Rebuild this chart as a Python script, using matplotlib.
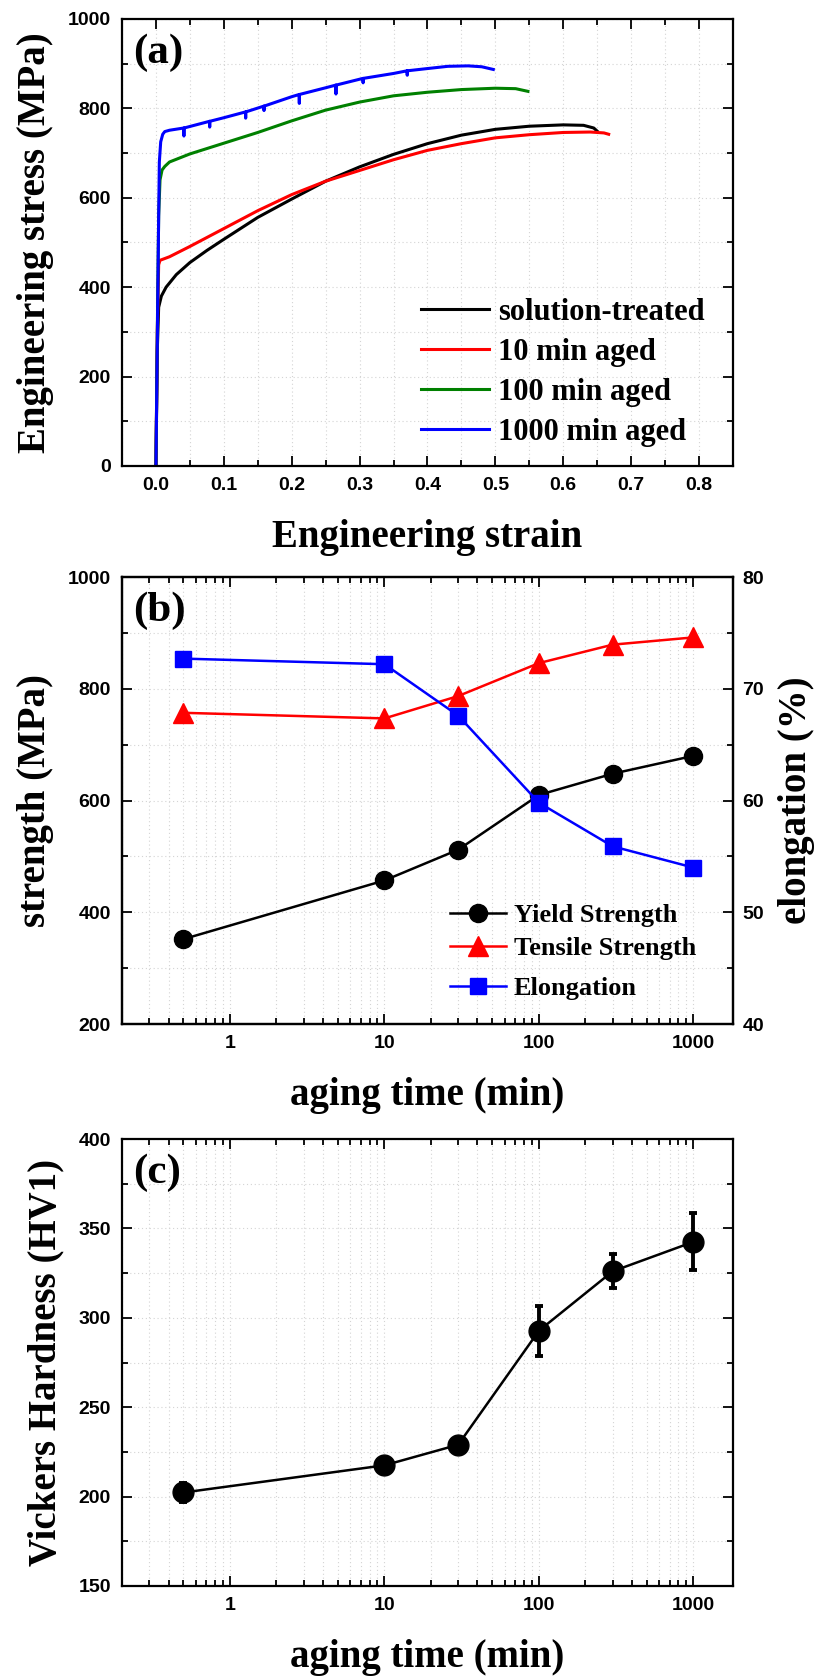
import matplotlib
matplotlib.use("Agg")
import matplotlib.pyplot as plt
from matplotlib.ticker import MultipleLocator, LogLocator, NullFormatter, FixedLocator, FixedFormatter

plt.rcParams['font.family'] = ['Liberation Sans', 'DejaVu Sans']
plt.rcParams['font.weight'] = 'bold'

# ---- (a) engineering stress-strain curves ----
st_strain = [0, 0.002, 0.004, 0.008, 0.015, 0.03, 0.05, 0.075, 0.1, 0.15, 0.2, 0.25,
             0.3, 0.35, 0.4, 0.45, 0.5, 0.55, 0.6, 0.63, 0.645, 0.65]
st_stress = [0, 260, 355, 380, 400, 428, 455, 482, 507, 556, 597, 637,
             669, 697, 721, 740, 753, 760, 763, 762, 756, 749]

a10_strain = [0, 0.002, 0.004, 0.006, 0.02, 0.05, 0.1, 0.15, 0.2, 0.25, 0.3, 0.35,
              0.4, 0.45, 0.5, 0.55, 0.6, 0.64, 0.66, 0.667]
a10_stress = [0, 300, 450, 460, 468, 491, 531, 571, 607, 637, 661, 685,
              706, 721, 734, 741, 746, 747, 745, 742]

a100_strain = [0, 0.002, 0.004, 0.006, 0.009, 0.013, 0.02, 0.05, 0.1, 0.15, 0.2, 0.25,
               0.3, 0.35, 0.4, 0.45, 0.5, 0.53, 0.548]
a100_stress = [0, 300, 560, 640, 662, 670, 680, 698, 722, 746, 772, 796,
               814, 828, 836, 842, 845, 844, 838]

a1000_strain = [0, 0.002, 0.004, 0.005, 0.007, 0.01, 0.013, 0.02, 0.041, 0.0412, 0.0414,
                0.079, 0.0792, 0.0794, 0.1, 0.132, 0.1322, 0.1324, 0.159, 0.1592, 0.1594,
                0.2, 0.211, 0.2112, 0.2114, 0.25, 0.265, 0.2652, 0.2654, 0.305, 0.3052,
                0.3054, 0.35, 0.37, 0.3702, 0.3704, 0.4, 0.43, 0.46, 0.48, 0.497]
a1000_stress = [0, 280, 560, 680, 725, 742, 748, 751, 756, 738, 756,
                771, 758, 771, 779, 792, 778, 792, 805, 795, 805,
                826, 831, 811, 831, 846, 852, 832, 852, 867, 857,
                867, 878, 884, 874, 884, 889, 894, 895, 893, 887]

# ---- (b) strength / elongation vs aging time ----
aging_time = [0.5, 10, 30, 100, 300, 1000]
yield_strength = [352, 457, 512, 610, 648, 680]
tensile_strength = [757, 747, 787, 846, 879, 892]
elongation = [72.7, 72.2, 67.6, 59.8, 55.9, 54.0]

# ---- (c) Vickers hardness ----
hardness = [202.3, 217.5, 229.0, 292.8, 326.0, 342.5]
hardness_err = [5.5, 2.0, 4.0, 14.0, 9.5, 16.0]

serif = {'family': 'Liberation Serif', 'weight': 'bold'}
label_fs = 28
tick_fs = 14
grid_kw = dict(color='#d4d4d4', linestyle=(0, (1, 2.5)), linewidth=0.8)


def style_axis(ax, right=True):
    ax.tick_params(which='both', direction='in', top=True, right=right,
                   width=1.3, labelsize=tick_fs, pad=8)
    ax.tick_params(which='major', length=7)
    ax.tick_params(which='minor', length=4)
    for s in ax.spines.values():
        s.set_linewidth(1.6)
    ax.grid(True, which='both', **grid_kw)
    ax.set_axisbelow(True)


fig = plt.figure(figsize=(8.3, 16.76), dpi=100)
left, width, height = 0.147, 0.736, 0.2667

# ---------------- (a) ----------------
ax1 = fig.add_axes([left, 0.722, width, height])
ax1.plot(st_strain, st_stress, color='black', lw=2.2, label='solution-treated')
ax1.plot(a10_strain, a10_stress, color='#ff0000', lw=2.2, label='10 min aged')
ax1.plot(a100_strain, a100_stress, color='#008000', lw=2.2, label='100 min aged')
ax1.plot(a1000_strain, a1000_stress, color='#0000ff', lw=2.2, label='1000 min aged')
ax1.set_xlim(-0.05, 0.85)
ax1.set_ylim(0, 1000)
ax1.xaxis.set_major_locator(MultipleLocator(0.1))
ax1.xaxis.set_minor_locator(MultipleLocator(0.05))
ax1.yaxis.set_major_locator(MultipleLocator(200))
ax1.yaxis.set_minor_locator(MultipleLocator(100))
ax1.xaxis.set_major_formatter(plt.FuncFormatter(lambda v, p: f"{v:.1f}"))
style_axis(ax1)
ax1.set_xlabel('Engineering strain', fontdict=serif, fontsize=label_fs, labelpad=18)
ax1.set_ylabel('Engineering stress (MPa)', fontdict=serif, fontsize=label_fs, labelpad=10)
ax1.text(0.018, 0.968, '(a)', transform=ax1.transAxes, va='top', ha='left',
         fontsize=31, **serif)
ax1.legend(loc='lower left', bbox_to_anchor=(0.47, 0.016), frameon=False,
           prop={'family': 'Liberation Serif', 'weight': 'bold', 'size': 22},
           handlelength=2.2, handletextpad=0.3, labelspacing=0.36, borderaxespad=0)

# ---------------- (b) ----------------
ax2 = fig.add_axes([left, 0.389, width, height])
l1, = ax2.plot(aging_time, yield_strength, '-o', color='black', ms=13, lw=1.8,
               label='Yield Strength')
l2, = ax2.plot(aging_time, tensile_strength, '-^', color='#ff0000', ms=15, lw=1.8,
               label='Tensile Strength')
ax2.set_xscale('log')
ax2.set_xlim(0.2, 1800)
ax2.set_ylim(200, 1000)
ax2.yaxis.set_major_locator(MultipleLocator(200))
ax2.yaxis.set_minor_locator(MultipleLocator(100))
ax2.xaxis.set_major_locator(FixedLocator([1, 10, 100, 1000]))
ax2.xaxis.set_major_formatter(FixedFormatter(['1', '10', '100', '1000']))
ax2.xaxis.set_minor_locator(LogLocator(base=10, subs=range(2, 10)))
ax2.xaxis.set_minor_formatter(NullFormatter())
style_axis(ax2, right=False)
ax2.set_xlabel('aging time (min)', fontdict=serif, fontsize=label_fs, labelpad=18)
ax2.set_ylabel('strength (MPa)', fontdict=serif, fontsize=label_fs, labelpad=10)
ax2.text(0.018, 0.968, '(b)', transform=ax2.transAxes, va='top', ha='left',
         fontsize=31, **serif)

ax2r = ax2.twinx()
l3, = ax2r.plot(aging_time, elongation, '-s', color='#0000ff', ms=12, lw=1.8,
                label='Elongation')
ax2r.set_ylim(40, 80)
ax2r.yaxis.set_major_locator(MultipleLocator(10))
ax2r.yaxis.set_minor_locator(MultipleLocator(5))
ax2r.tick_params(which='both', direction='in', width=1.3, labelsize=tick_fs, pad=7)
ax2r.tick_params(which='major', length=7)
ax2r.tick_params(which='minor', length=4)
for s in ax2r.spines.values():
    s.set_linewidth(1.6)
ax2r.set_ylabel('elongation (%)', fontdict=serif, fontsize=label_fs, labelpad=10)

leg_prop = {'family': 'Liberation Serif', 'weight': 'bold', 'size': 19}
leg_b = ax2r.legend(handles=[l1, l2], loc='lower left', bbox_to_anchor=(0.52, 0.12),
                    frameon=False, prop=leg_prop, handlelength=2.1, handletextpad=0.3,
                    labelspacing=0.35, borderaxespad=0, numpoints=1)
ax2r.add_artist(leg_b)
ax2r.legend(handles=[l3], loc='lower left', bbox_to_anchor=(0.52, 0.03),
            frameon=False, prop=leg_prop, handlelength=2.1, handletextpad=0.3,
            borderaxespad=0, numpoints=1)

# ---------------- (c) ----------------
ax3 = fig.add_axes([left, 0.0537, width, height])
ax3.errorbar(aging_time, hardness, yerr=hardness_err, fmt='-o', color='black', ms=15,
             lw=1.8, elinewidth=2.8, capsize=3, capthick=2.8)
ax3.set_xscale('log')
ax3.set_xlim(0.2, 1800)
ax3.set_ylim(150, 400)
ax3.yaxis.set_major_locator(MultipleLocator(50))
ax3.yaxis.set_minor_locator(MultipleLocator(25))
ax3.xaxis.set_major_locator(FixedLocator([1, 10, 100, 1000]))
ax3.xaxis.set_major_formatter(FixedFormatter(['1', '10', '100', '1000']))
ax3.xaxis.set_minor_locator(LogLocator(base=10, subs=range(2, 10)))
ax3.xaxis.set_minor_formatter(NullFormatter())
style_axis(ax3)
ax3.set_xlabel('aging time (min)', fontdict=serif, fontsize=label_fs, labelpad=18)
ax3.set_ylabel('Vickers Hardness (HV1)', fontdict=serif, fontsize=label_fs, labelpad=10)
ax3.text(0.018, 0.968, '(c)', transform=ax3.transAxes, va='top', ha='left',
         fontsize=31, **serif)

fig.savefig('out.png', dpi=100)
